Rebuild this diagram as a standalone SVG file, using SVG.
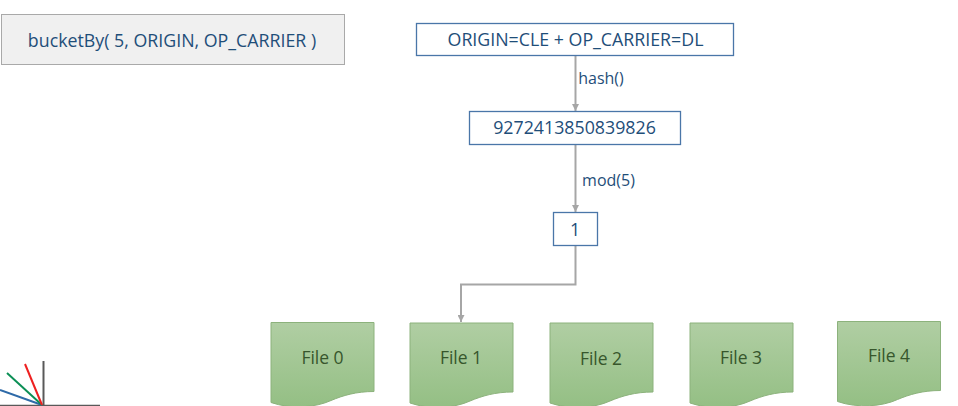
<svg xmlns="http://www.w3.org/2000/svg" width="958" height="406" viewBox="0 0 958 406">
<style>
text{font-family:"Open Sans","Noto Sans","Liberation Sans",sans-serif;text-anchor:middle}
.t{fill:#1f4e79;font-size:17.800px}
.s{fill:#1f4e79;font-size:16px}
.box{fill:#fff;stroke:#4a76a8;stroke-width:1.3}
.doc{fill:url(#g);stroke:#8cb27c;stroke-width:1}
.f{fill:#37562c;font-size:17.500px}
.c{fill:none;stroke:#a6a6a6;stroke-width:2}
</style>
<defs>
<linearGradient id="g" x1="0" y1="0" x2="0" y2="1"><stop offset="0" stop-color="#b0cea3"/><stop offset="1" stop-color="#94bf84"/></linearGradient>
<marker id="a" markerUnits="userSpaceOnUse" markerWidth="8" markerHeight="7" refX="7" refY="3.500" orient="auto"><path d="M0 0L7 3.500L0 7Z" fill="#a6a6a6"/></marker>
<path id="d" d="M0 0H103V69C85 69 72 73 60 78C45 85 20 87 0 80Z"/>
</defs>
<g id="connectors">
<path class="c" marker-end="url(#a)" d="M575.500 55V111"/>
<path class="c" marker-end="url(#a)" d="M575.500 144V212"/>
<path class="c" d="M575.500 245V284.500H461V322" marker-end="url(#a)"/>
</g>
<g id="title"><rect x="1.500" y="14.500" width="343" height="50" fill="#f0f0f0" stroke="#a9a9a9"/><text class="t" x="172" y="47">bucketBy( 5, ORIGIN, OP_CARRIER )</text></g>
<g id="key"><rect class="box" x="416.500" y="23.500" width="317" height="32"/><text class="t" x="575.500" y="46">ORIGIN=CLE + OP_CARRIER=DL</text></g>
<text class="s" x="601" y="84">hash()</text>
<g id="hash"><rect class="box" x="469.500" y="111.500" width="211" height="33"/><text class="t" x="574.500" y="134">9272413850839826</text></g>
<text class="s" x="608.500" y="186">mod(5)</text>
<g id="bucket"><rect class="box" x="553.500" y="212.500" width="44" height="33"/><text class="t" x="575" y="236">1</text></g>
<g id="file0"><use href="#d" class="doc" x="271" y="322.500"/><text class="f" x="322.500" y="364">File 0</text></g>
<g id="file1"><use href="#d" class="doc" x="410" y="323"/><text class="f" x="461" y="364">File 1</text></g>
<g id="file2"><use href="#d" class="doc" x="550" y="323"/><text class="f" x="601" y="365">File 2</text></g>
<g id="file3"><use href="#d" class="doc" x="690" y="323"/><text class="f" x="741" y="364">File 3</text></g>
<g id="file4"><use href="#d" class="doc" x="837.500" y="321.500"/><text class="f" x="889" y="362">File 4</text></g>
<g id="axes" fill="none" stroke-width="2">
<path stroke="#595959" d="M43.500 361V405"/><path stroke="#595959" stroke-width="1.500" d="M0 405.500H100"/>
<path stroke="#2e6aa8" d="M0 390L42 405"/>
<path stroke="#0b8f55" d="M7 373L42 405"/>
<path stroke="#ee2020" d="M25 364L42 405"/>
</g>
</svg>
